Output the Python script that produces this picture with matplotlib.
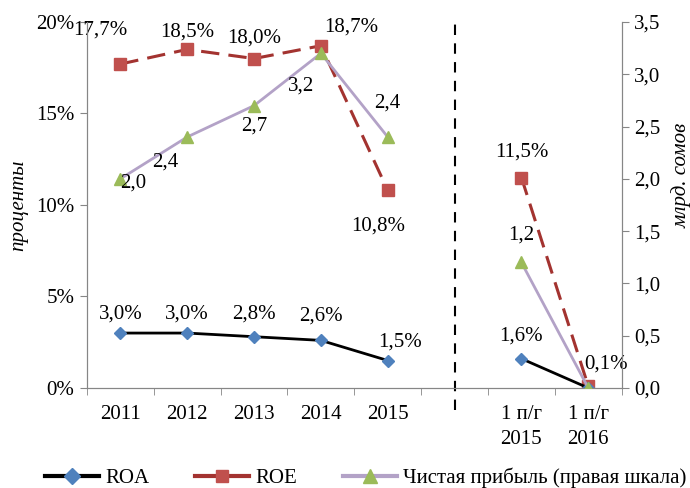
import numpy as np
import matplotlib
matplotlib.use('Agg')
import matplotlib.pyplot as plt

plt.rcParams['font.family'] = ['Liberation Serif', 'DejaVu Serif']
plt.rcParams['font.size'] = 15

categories = ['2011', '2012', '2013', '2014', '2015', '', '1 п/г\n2015', '1 п/г\n2016']
roa = [3.0, 3.0, 2.8, 2.6, 1.5, np.nan, 1.6, 0.0]
roe = [17.7, 18.5, 18.0, 18.7, 10.8, np.nan, 11.5, 0.1]
profit = [2.0, 2.4, 2.7, 3.2, 2.4, np.nan, 1.2, 0.0]

roa_labels = ['3,0%', '3,0%', '2,8%', '2,6%', '1,5%', None, '1,6%', None]
roe_labels = ['17,7%', '18,5%', '18,0%', '18,7%', '10,8%', None, '11,5%', '0,1%']
profit_labels = ['2,0', '2,4', '2,7', '3,2', '2,4', None, '1,2', None]

# label offsets in pixels (dx, dy)
roa_off = [(0, 19), (0, 19), (0, 23), (0, 24), (12, 18), None, (0, 23), None]
roe_off = [(-20, 34), (0, 17), (0, 21), (30, 19), (-10, -36), None, (0, 25), (18, 22)]
profit_off = [(13, -4), (-22, -25), (0, -20), (-20, -33), (0, 34), None, (0, 27), None]

x = np.arange(len(categories))

fig = plt.figure(figsize=(6.9, 4.88), dpi=100)
ax = fig.add_axes([0.126, 0.205, 0.775, 0.75])
ax2 = ax.twinx()

for seg in (slice(0, 5), slice(6, 8)):
    ax.plot(x[seg], roe[seg], color='#A33330', lw=2.2, dashes=(6, 3), marker='s', ms=8,
            mfc='#C0504D', mec='#C0504D', zorder=3)
    ax.plot(x[seg], roa[seg], color='black', lw=2, marker='D', ms=6.5,
            mfc='#4F81BD', mec='#4F81BD', zorder=3)
    ax2.plot(x[seg], profit[seg], color='#B3A2C7', lw=2, marker='^', ms=9,
             mfc='#9BBB59', mec='#9BBB59', zorder=3)

def px(o):
    return (o[0] * 0.72, o[1] * 0.72)

for i in range(len(x)):
    if roa_labels[i]:
        ax.annotate(roa_labels[i], (x[i], roa[i]), xytext=px(roa_off[i]),
                    textcoords='offset points', ha='center', va='center')
    if roe_labels[i]:
        ax.annotate(roe_labels[i], (x[i], roe[i]), xytext=px(roe_off[i]),
                    textcoords='offset points', ha='center', va='center')
    if profit_labels[i]:
        ax2.annotate(profit_labels[i], (x[i], profit[i]), xytext=px(profit_off[i]),
                     textcoords='offset points', ha='center', va='center')

ax.set_xlim(-0.5, len(x) - 0.5)
ax.set_ylim(0, 20)
ax2.set_ylim(0, 3.5)
ax.set_yticks(np.arange(0, 21, 5))
ax.set_yticklabels([f'{v}%' for v in range(0, 21, 5)])
ax2.set_yticks(np.arange(0, 3.51, 0.5))
ax2.set_yticklabels([f'{v:.1f}'.replace('.', ',') for v in np.arange(0, 3.51, 0.5)])

ax.set_xticks(x)
ax.set_xticklabels(categories, linespacing=1.45, va='top')
ax.set_xticks(np.arange(-0.5, len(x), 1), minor=True)
ax.tick_params(axis='x', which='major', length=0, pad=12)
ax.tick_params(axis='x', which='minor', length=5, color='#868686')
ax.tick_params(axis='y', length=5, color='#868686', pad=4)
ax2.tick_params(axis='y', length=5, color='#868686', pad=4)

for a in (ax, ax2):
    a.spines['top'].set_visible(False)
    for s in ('left', 'right', 'bottom'):
        a.spines[s].set_color('#868686')

ax.set_ylabel('проценты', fontstyle='italic')
ax.yaxis.set_label_coords(-0.11, 0.5)
ax2.set_ylabel('млрд. сомов', fontstyle='italic')
ax2.yaxis.set_label_coords(1.093, 0.58)

ax.plot([5, 5], [-1.2, 20], color='black', lw=1.5, dashes=(5, 4), clip_on=False, zorder=1)

h1 = ax.plot([], [], color='black', lw=3, marker='D', ms=8, mfc='#4F81BD', mec='#4F81BD')[0]
h2 = ax.plot([], [], color='#A33330', lw=3, marker='s', ms=9, mfc='#C0504D', mec='#C0504D')[0]
h3 = ax.plot([], [], color='#B3A2C7', lw=3, marker='^', ms=10, mfc='#9BBB59', mec='#9BBB59')[0]
fig.legend([h1, h2, h3], ['ROA', 'ROE', 'Чистая прибыль (правая шкала)'],
           loc='lower center', bbox_to_anchor=(0.53, -0.038), ncol=3, frameon=False,
           handlelength=2.6, columnspacing=2.2, handletextpad=0.3)

fig.savefig('out.png', dpi=100)
